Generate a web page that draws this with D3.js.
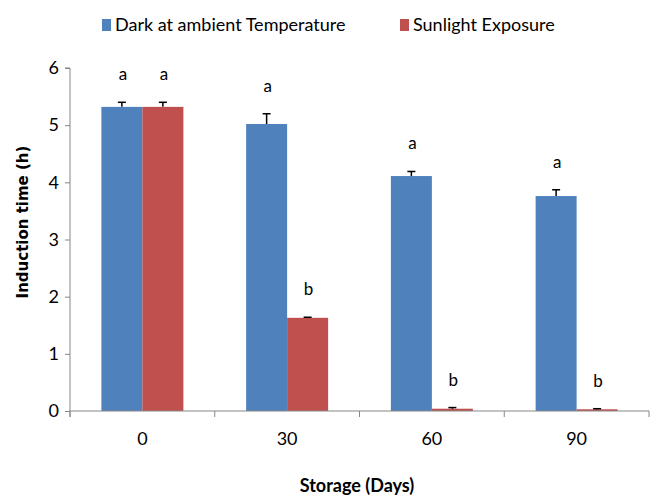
<!DOCTYPE html>
<html>
<head>
<meta charset="utf-8">
<script src="https://cdn.jsdelivr.net/npm/d3@7"></script>
<style>
  html, body { margin: 0; padding: 0; background: #fff; }
  svg { display: block; }
</style>
</head>
<body>
<svg id="chart" width="650" height="495"></svg>
<script>
// ---- data ----
const categories = ["0", "30", "60", "90"];
const seriesNames = ["Dark at ambient Temperature", "Sunlight Exposure"];
const darkValues = [5.32, 5.02, 4.11, 3.76];
const darkErrors = [0.08, 0.18, 0.08, 0.11];
const sunValues = [5.32, 1.63, 0.04, 0.03];
const sunErrors = [0.08, 0.01, 0.02, 0.01];
const darkLetters = ["a", "a", "a", "a"];
const sunLetters = ["a", "b", "b", "b"];
const yTicks = [0, 1, 2, 3, 4, 5, 6];
const xTitle = "Storage (Days)";
const yTitle = "Induction time (h)";

const colors = ["#4F81BD", "#C0504D"];
const series = [
  { name: seriesNames[0], values: darkValues, errors: darkErrors, letters: darkLetters, color: colors[0] },
  { name: seriesNames[1], values: sunValues, errors: sunErrors, letters: sunLetters, color: colors[1] }
];

const svg = d3.select("#chart");
const margin = { left: 70, right: 1, top: 68, bottom: 84 };
const W = 650, H = 495;
const x0 = margin.left, x1 = W - margin.right;
const yBottom = H - margin.bottom, yTop = margin.top;

const x = d3.scaleBand().domain(categories).range([x0, x1]).padding(0);
const xs = d3.scaleBand().domain([0, 1]).range([0, x.bandwidth()]).paddingInner(0).paddingOuter(0.44 / 0.56 * 0.5 * 1.0);
// adjust so each bar ~41px in a 145px band
xs.paddingOuter(((x.bandwidth() - 82) / 2) / 41);
const y = d3.scaleLinear().domain([0, 6]).range([yBottom, yTop]);

const font = "Lato, 'Open Sans', sans-serif";
const axisColor = "#878787";

// bars
const g = svg.append("g");
series.forEach((s, si) => {
  g.selectAll(".bar" + si)
    .data(categories.map((c, i) => ({ c, v: s.values[i], e: s.errors[i], l: s.letters[i] })))
    .enter().append("rect")
    .attr("x", d => x(d.c) + xs(si))
    .attr("y", d => y(d.v))
    .attr("width", xs.bandwidth())
    .attr("height", d => yBottom - y(d.v))
    .attr("fill", s.color);
});

// error bars and letters
series.forEach((s, si) => {
  categories.forEach((c, i) => {
    const cx = x(c) + xs(si) + xs.bandwidth() / 2;
    const vTop = y(s.values[i]);
    const eTop = y(s.values[i] + s.errors[i]);
    g.append("line").attr("x1", cx).attr("x2", cx).attr("y1", vTop).attr("y2", eTop)
      .attr("stroke", "#000").attr("stroke-width", 1.5);
    g.append("line").attr("x1", cx - 4).attr("x2", cx + 4).attr("y1", eTop).attr("y2", eTop)
      .attr("stroke", "#000").attr("stroke-width", 1.5);
    g.append("text").attr("x", cx + 1).attr("y", eTop - 22)
      .attr("text-anchor", "middle")
      .attr("font-family", font).attr("font-size", 17).attr("fill", "#000")
      .text(s.letters[i]);
  });
});

// y axis
const yAxis = d3.axisLeft(y).tickValues(yTicks).tickSize(5).tickPadding(6).tickFormat(d3.format("d"));
const ya = svg.append("g").attr("transform", `translate(${x0},0)`).call(yAxis);
ya.select(".domain").attr("stroke", axisColor).attr("d", `M-5,${yTop}H0V${yBottom + 6}`);
ya.selectAll(".tick line").attr("stroke", axisColor);
ya.selectAll(".tick text").attr("font-family", font).attr("font-size", 18).attr("fill", "#000");

// x axis
const xa = svg.append("g").attr("transform", `translate(0,${yBottom})`);
xa.append("line").attr("x1", x0).attr("x2", x1).attr("y1", 0).attr("y2", 0).attr("stroke", axisColor);
const bounds = categories.map(c => x(c)).concat([x1]);
xa.selectAll(".xt").data(bounds).enter().append("line")
  .attr("x1", d => d).attr("x2", d => d).attr("y1", 0).attr("y2", 6).attr("stroke", axisColor);
xa.selectAll(".xl").data(categories).enter().append("text")
  .attr("x", d => x(d) + x.bandwidth() / 2).attr("y", 34)
  .attr("text-anchor", "middle")
  .attr("font-family", font).attr("font-size", 18).attr("fill", "#000")
  .text(d => d);

// titles
svg.append("text").attr("x", 357).attr("y", 492).attr("text-anchor", "middle")
  .attr("font-family", font).attr("font-weight", "bold").attr("font-size", 18).attr("fill", "#000")
  .text(xTitle);
svg.append("text").attr("transform", "translate(28,222) rotate(-90)").attr("text-anchor", "middle")
  .attr("font-family", "'DejaVu Sans', sans-serif").attr("font-weight", "bold").attr("font-size", 15).attr("fill", "#000")
  .text(yTitle);

// legend
const legendItems = [{ x: 102, t: seriesNames[0], c: colors[0] }, { x: 400, t: seriesNames[1], c: colors[1] }];
legendItems.forEach(it => {
  svg.append("rect").attr("x", it.x).attr("y", 19).attr("width", 9).attr("height", 12).attr("fill", it.c);
  svg.append("text").attr("x", it.x + 13).attr("y", 31)
    .attr("font-family", font).attr("font-size", 18).attr("fill", "#000").text(it.t);
});
</script>
</body>
</html>
